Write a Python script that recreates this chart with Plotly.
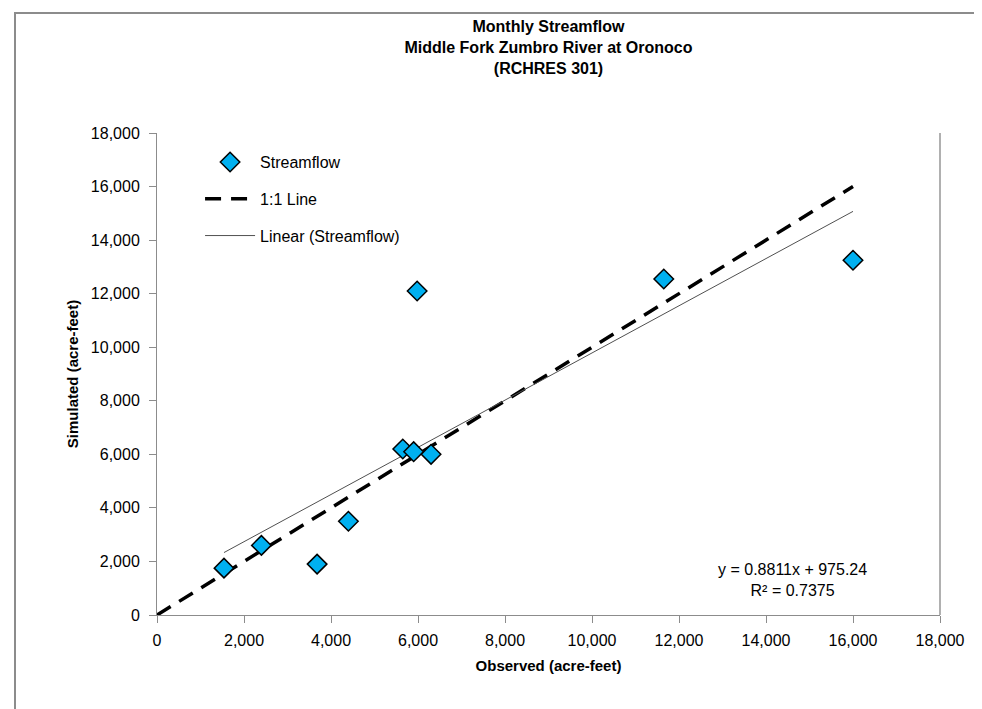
import plotly.graph_objects as go

# Observed vs simulated monthly streamflow (acre-feet)
observed = [1540, 2400, 3680, 4400, 5650, 5900, 6300, 5980, 11650, 16000]
simulated = [1750, 2600, 1900, 3500, 6200, 6100, 6000, 12100, 12550, 13250]

# 1:1 reference line end points
one_to_one = [0, 16000]

# Excel linear trendline as shown on the chart
slope = 0.8811
intercept = 975.24
r_squared = 0.7375

tick_vals = list(range(0, 18001, 2000))
tick_text = [f"{v:,}" for v in tick_vals]

font_family = "Liberation Sans, Arial, sans-serif"
border_gray = "#8c8c8c"

trend_x = [min(observed), max(observed)]
trend_y = [slope * x + intercept for x in trend_x]

fig = go.Figure()

# === 1:1 line ===
fig.add_trace(go.Scatter(
    x=one_to_one, y=one_to_one,
    mode='lines', name='1:1 Line',
    line=dict(color='black', width=3.5, dash='16px,10px'),
    legendgroup='b', legendrank=2
))

# === Linear trendline ===
fig.add_trace(go.Scatter(
    x=trend_x, y=trend_y,
    mode='lines', name='Linear (Streamflow)',
    line=dict(color='#505050', width=1),
    legendgroup='c', legendrank=3
))

# === Streamflow points ===
fig.add_trace(go.Scatter(
    x=observed, y=simulated,
    mode='markers', name='Streamflow',
    marker=dict(symbol='diamond', size=15, color='#00b0f0',
                line=dict(color='black', width=1.5)),
    legendgroup='a', legendrank=1
))

axis_common = dict(
    range=[0, 18000], tickvals=tick_vals, ticktext=tick_text,
    showgrid=False, zeroline=False, showline=True,
    linecolor=border_gray, linewidth=1,
    ticks='outside', ticklen=7, tickcolor=border_gray,
    tickfont=dict(family=font_family, size=16, color='black'),
)

fig.update_layout(
    width=982, height=709,
    margin=dict(l=149, r=50, t=125, b=102),
    paper_bgcolor='white', plot_bgcolor='white',
    title=dict(
        text="Monthly Streamflow<br>Middle Fork Zumbro River at Oronoco<br>(RCHRES 301)",
        x=0.5 + (149 - 50) / 2 / 982, xanchor='center',
        y=1 - 24 / 709, yanchor='top',
        font=dict(family=font_family, size=16, color='black', weight='bold'),
    ),
    xaxis=dict(axis_common, ticklabelstandoff=4,
               title=dict(text="Observed (acre-feet)", standoff=12,
                          font=dict(family=font_family, size=15, color='black', weight='bold'))),
    yaxis=dict(axis_common, ticklabelstandoff=6,
               title=dict(text="Simulated (acre-feet)", standoff=8,
                          font=dict(family=font_family, size=15, color='black', weight='bold'))),
    legend=dict(
        x=0.055, y=0.975, xanchor='left', yanchor='top',
        bgcolor='rgba(0,0,0,0)', tracegroupgap=13, itemwidth=50,
        font=dict(family=font_family, size=16, color='black'),
    ),
    showlegend=True,
)

# equation annotation
fig.add_annotation(
    x=(784 - 149) / 783, y=(607 - 572) / 482, xref='paper', yref='paper',
    xanchor='center', yanchor='middle',
    text=f"y = {slope}x + {intercept}<br>R² = {r_squared}",
    showarrow=False, align='center',
    font=dict(family=font_family, size=16, color='black'),
)

# outer chart border (bottom edge runs off the picture)
fig.add_shape(type='rect', xref='paper', yref='paper',
              x0=(7 - 149) / 783, x1=(975 - 149) / 783,
              y0=(607 - 714) / 482, y1=(607 - 5) / 482,
              line=dict(color=border_gray, width=2), layer='below')

# right edge of plot area
fig.add_shape(type='line', xref='paper', yref='paper',
              x0=1, x1=1, y0=0, y1=1,
              line=dict(color='#b0b0b0', width=2))

fig.write_html("out.html")
